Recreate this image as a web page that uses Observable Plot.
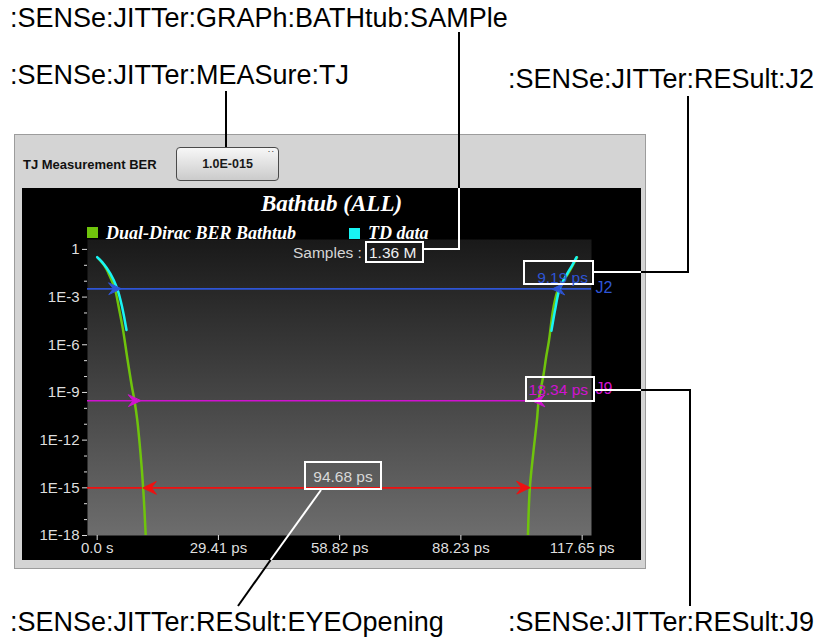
<!DOCTYPE html>
<html>
<head>
<meta charset="utf-8">
<script src="https://cdn.jsdelivr.net/npm/d3@7"></script>
<script src="https://cdn.jsdelivr.net/npm/@observablehq/plot@0.6"></script>
<style>
html,body{margin:0;padding:0;background:#fff;}
#page{position:relative;width:821px;height:641px;overflow:hidden;font-family:Arial,"Liberation Sans",Helvetica,sans-serif;}
.abs{position:absolute;white-space:nowrap;}
.scpi{font-size:27px;line-height:27px;color:#000;}
#panel{left:14px;top:134px;width:630px;height:433px;background:#d4d4d4;border:1px solid #9c9c9c;}
#tjlabel{left:23px;top:158px;font-size:13px;line-height:13px;font-weight:bold;color:#111;}
#button{left:176px;top:147px;width:101px;height:32px;border:1px solid #4a4a4a;border-radius:4px;background:linear-gradient(#f7f7f7,#cbcbcb);font-size:12.5px;font-weight:bold;color:#1a1a1a;text-align:center;line-height:32px;}
#grip{left:268px;top:146px;font-size:9px;line-height:9px;color:#444;}
#chart{left:22px;top:188px;}
#title{left:22px;width:619px;top:192px;text-align:center;font-family:"Liberation Serif","Times New Roman",serif;font-style:italic;font-weight:bold;font-size:23px;line-height:23px;color:#fff;}
.sw{width:11px;height:11px;}
.leg{font-family:"Liberation Serif","Times New Roman",serif;font-style:italic;font-weight:bold;font-size:18px;line-height:18px;color:#fff;}
.vbox{border:2px solid #fff;box-sizing:border-box;}
.vtxt{font-size:15.5px;line-height:15.5px;}
#overlay{left:0;top:0;pointer-events:none;}
</style>
</head>
<body>
<div id="page">
  <div class="abs scpi" id="lblSample" style="left:10px;top:5px;"></div>
  <div class="abs scpi" id="lblTJ" style="left:10px;top:62px;"></div>
  <div class="abs scpi" id="lblJ2" style="left:508px;top:66px;"></div>
  <div class="abs scpi" id="lblEye" style="left:10px;top:609px;"></div>
  <div class="abs scpi" id="lblJ9" style="left:508px;top:609px;"></div>

  <div class="abs" id="panel"></div>
  <div class="abs" id="tjlabel"></div>
  <div class="abs" id="button"></div>
  <div class="abs" id="grip">&#x2237;</div>
  <div class="abs" id="chart"></div>
  <div class="abs" id="title"></div>

  <div class="abs sw" id="swDD" style="left:87px;top:227px;"></div>
  <div class="abs leg" id="legDD" style="left:106px;top:224px;"></div>
  <div class="abs sw" id="swTD" style="left:349px;top:228px;"></div>
  <div class="abs leg" id="legTD" style="left:368px;top:224px;"></div>

  <div class="abs vtxt" id="samplesTxt" style="left:293px;top:245px;color:#d6d6d6;"></div>
  <div class="abs vbox" style="left:365px;top:241px;width:59px;height:22px;"></div>
  <div class="abs vtxt" id="samplesVal" style="left:369px;top:245px;color:#f0f0f0;"></div>

  <div class="abs vbox" style="left:523px;top:260px;width:71px;height:25px;"></div>
  <div class="abs vtxt" id="j2Val" style="right:233px;top:270px;"></div>
  <div class="abs vbox" style="left:525px;top:376px;width:70px;height:26px;"></div>
  <div class="abs vtxt" id="j9Val" style="right:233px;top:382px;"></div>
  <div class="abs vbox" style="left:304px;top:461px;width:78px;height:29px;"></div>
  <div class="abs vtxt" id="eyeVal" style="left:304px;width:78px;text-align:center;top:469px;color:#d8d8d8;"></div>

  <svg class="abs" id="overlay" width="821" height="641">
    <g fill="none" stroke-width="2" stroke-linejoin="miter">
      <path d="M459 32 V188" stroke="#000"/>
      <path d="M459 188 V249 H423" stroke="#fff"/>
      <path d="M226 91 V147" stroke="#000"/>
      <path d="M688 96 V272 H641" stroke="#000"/>
      <path d="M641 272 H594" stroke="#fff"/>
      <path d="M690 606 V390 H641" stroke="#000"/>
      <path d="M641 390 H595" stroke="#fff"/>
      <path d="M321 490 L270.6 560" stroke="#fff"/>
      <path d="M270.6 560 L238 606" stroke="#000"/>
    </g>
  </svg>
</div>
<script>
// ---------- data ----------
const scpiSample = ":SENSe:JITTer:GRAPh:BATHtub:SAMPle";
const scpiTJ = ":SENSe:JITTer:MEASure:TJ";
const scpiJ2 = ":SENSe:JITTer:RESult:J2";
const scpiEye = ":SENSe:JITTer:RESult:EYEOpening";
const scpiJ9 = ":SENSe:JITTer:RESult:J9";

const chartTitle = "Bathtub (ALL)";
const seriesNames = ["Dual-Dirac BER Bathtub", "TD data"];
const seriesColors = ["#6fc40c", "#18f4f4"];
const tjSettingLabel = "TJ Measurement BER";
const tjSettingValue = "1.0E-015";
const samplesLabel = "Samples :";
const samplesValue = "1.36 M";

const xTickValues = [0, 29.41, 58.82, 88.23, 117.65];
const xTickLabels = ["0.0 s", "29.41 ps", "58.82 ps", "88.23 ps", "117.65 ps"];
const yTickExponents = [0, -3, -6, -9, -12, -15, -18];
const yTickLabels = ["1", "1E-3", "1E-6", "1E-9", "1E-12", "1E-15", "1E-18"];

// Dual-Dirac bathtub (ps, log10 BER)
const ddLeftPs   = [0.39, 2.01, 2.81, 4.27, 5.24, 6.21, 7.28, 8.39, 9.05, 9.70, 10.50, 11.16, 11.79];
const ddLeftLog  = [-0.59, -1.12, -1.54, -2.46, -3.65, -4.97, -6.80, -8.59, -9.52, -10.70, -12.80, -15.03, -18.07];
const ddRightPs  = [116.4, 114.2, 111.9, 110.7, 109.6, 108.9, 108.3, 107.1, 106.7, 105.8, 104.95, 104.5];
const ddRightLog = [-0.50, -1.54, -2.46, -3.65, -5.75, -6.80, -7.85, -9.52, -10.70, -12.80, -15.03, -18.07];
// TD (measured) data
const tdLeftPs   = [0.0, 1.21, 3.23, 4.85, 6.07, 7.11];
const tdLeftLog  = [-0.49, -0.80, -1.54, -2.46, -3.65, -5.07];
const tdRightPs  = [116.3, 115.2, 114.0, 112.2, 111.2, 110.2];
const tdRightLog = [-0.49, -1.02, -1.54, -2.46, -3.65, -5.12];

// Jitter result levels
const levelNames   = ["J2", "J9", "TJ"];
const levelBer     = [3.3e-3, 3.0e-10, 1e-15];
const levelLeftPs  = [4.27, 9.05, 11.16];
const levelRightPs = [111.9, 107.1, 104.95];
const levelColors  = ["#2e55d6", "#d012d0", "#f01010"];
const resultValues = ["9.19 ps", "18.34 ps", "94.68 ps"];

// ---------- text ----------
const setText = (id, t) => document.getElementById(id).textContent = t;
setText("lblSample", scpiSample); setText("lblTJ", scpiTJ); setText("lblJ2", scpiJ2);
setText("lblEye", scpiEye); setText("lblJ9", scpiJ9);
setText("tjlabel", tjSettingLabel); setText("button", tjSettingValue);
setText("title", chartTitle);
setText("legDD", seriesNames[0]); setText("legTD", seriesNames[1]);
document.getElementById("swDD").style.background = seriesColors[0];
document.getElementById("swTD").style.background = seriesColors[1];
setText("samplesTxt", samplesLabel); setText("samplesVal", samplesValue);
setText("j2Val", resultValues[0]); document.getElementById("j2Val").style.color = levelColors[0];
setText("j9Val", resultValues[1]); document.getElementById("j9Val").style.color = levelColors[1];
setText("eyeVal", resultValues[2]);

// ---------- tables ----------
const toRows = (ps, lg) => ps.map((p, i) => ({ps: p, ber: Math.pow(10, lg[i])}));
const ddLeft = toRows(ddLeftPs, ddLeftLog);
const ddRight = toRows(ddRightPs, ddRightLog);
const tdLeft = toRows(tdLeftPs, tdLeftLog);
const tdRight = toRows(tdRightPs, tdRightLog);
const levels = levelNames.map((n, i) => ({name: n, ber: levelBer[i], color: levelColors[i]}));
const markers = [];
levelNames.forEach((n, i) => {
  markers.push({name: n, ps: levelLeftPs[i], ber: levelBer[i], color: levelColors[i], rot: n === "TJ" ? -90 : 90});
  markers.push({name: n, ps: levelRightPs[i], ber: levelBer[i], color: levelColors[i], rot: n === "TJ" ? 90 : -90});
});
const yTickValues = yTickExponents.map(e => Math.pow(10, e));
const yLabelMap = new Map(yTickValues.map((v, i) => [v, yTickLabels[i]]));
const xLabelMap = new Map(xTickValues.map((v, i) => [v, xTickLabels[i]]));
const minorTickValues = d3.range(-18, 1).filter(e => !yTickExponents.includes(e)).map(e => Math.pow(10, e));

const chevron = {
  draw(context, l) {
    const w = l * 0.48;
    context.moveTo(0, -l);
    context.lineTo(w, 0);
    context.lineTo(0, -l * 0.38);
    context.lineTo(-w, 0);
    context.closePath();
  }
};

const defs = () => {
  const d = d3.create("svg:defs");
  const g = d.append("linearGradient").attr("id", "plotGradient")
    .attr("x1", 0).attr("y1", 0).attr("x2", 0).attr("y2", 1);
  g.append("stop").attr("offset", 0).attr("stop-color", "#191919");
  g.append("stop").attr("offset", 1).attr("stop-color", "#6d6d6d");
  return d.node();
};

const chart = Plot.plot({
  width: 619, height: 372,
  marginLeft: 65, marginTop: 51, marginRight: 50, marginBottom: 25,
  style: {background: "#000", color: "#dedede", fontFamily: "Arial, 'Liberation Sans', sans-serif", fontSize: "15px", overflow: "visible"},
  x: {domain: [-2.35, 119.92], axis: null},
  y: {type: "log", domain: [1e-18, 4.2], axis: null},
  color: {type: "identity"},
  marks: [
    defs,
    Plot.frame({fill: "url(#plotGradient)"}),
    Plot.axisY({ticks: minorTickValues, tickFormat: () => "", tickSize: 3, label: null}),
    Plot.axisY({ticks: yTickValues, tickFormat: d => yLabelMap.get(d), tickSize: 5, tickPadding: 3, fontSize: 15, label: null}),
    Plot.axisX({ticks: xTickValues, tickFormat: d => xLabelMap.get(d), tickSize: 5, tickPadding: 2, fontSize: 15, label: null}),
    Plot.ruleY(levels, {y: "ber", stroke: "color", strokeWidth: 1.7}),
    Plot.line(ddLeft, {x: "ps", y: "ber", stroke: seriesColors[0], strokeWidth: 2.5, curve: "catmull-rom", clip: true}),
    Plot.line(ddRight, {x: "ps", y: "ber", stroke: seriesColors[0], strokeWidth: 2.5, curve: "catmull-rom", clip: true}),
    Plot.line(tdLeft, {x: "ps", y: "ber", stroke: seriesColors[1], strokeWidth: 2.5, curve: "catmull-rom", clip: true}),
    Plot.line(tdRight, {x: "ps", y: "ber", stroke: seriesColors[1], strokeWidth: 2.5, curve: "catmull-rom", clip: true}),
    Plot.vector(markers.filter(d => d.name !== "TJ"), {x: "ps", y: "ber", rotate: "rot", length: 12, anchor: "middle", shape: chevron, fill: "color", stroke: "color", strokeWidth: 1}),
    Plot.vector(markers.filter(d => d.name === "TJ"), {x: "ps", y: "ber", rotate: "rot", length: 13, anchor: "end", shape: chevron, fill: "color", stroke: "color", strokeWidth: 1}),
    Plot.text(levels.filter(d => d.name === "J2"), {y: "ber", text: "name", frameAnchor: "right", dx: 4, dy: -1, textAnchor: "start", fill: "color", fontSize: 16}),
    Plot.text(levels.filter(d => d.name === "J9"), {y: "ber", text: "name", frameAnchor: "right", dx: 4, dy: -12, textAnchor: "start", fill: "color", fontSize: 16})
  ]
});
document.getElementById("chart").appendChild(chart);
</script>
</body>
</html>
